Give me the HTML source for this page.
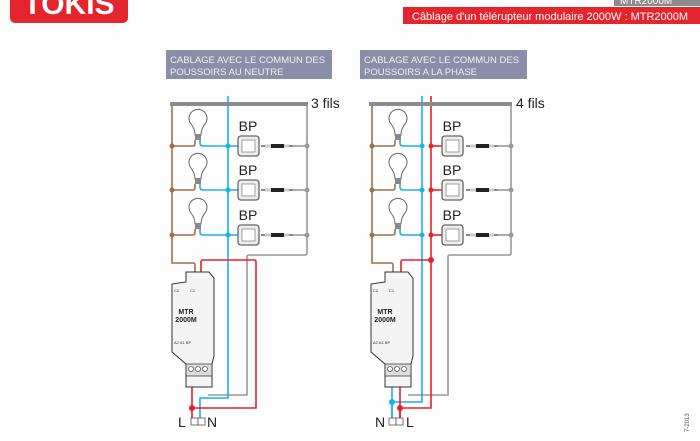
<!DOCTYPE html>
<html><head><meta charset="utf-8"><style>
html,body{margin:0;padding:0;background:#fcfdfc;}
svg{display:block;font-family:"Liberation Sans",sans-serif;}
</style></head><body>
<svg width="700" height="441" viewBox="0 0 700 441" xmlns="http://www.w3.org/2000/svg">
<defs>
<g id="bulb">
<path d="M-3,23 Q-3,17 -7,12 A9,9 0 1 1 7,12 Q3,17 3,23 Z" fill="#fff" stroke="#666" stroke-width="1"/>
<rect x="-3" y="22" width="6" height="6" fill="#888"/>
</g>
<g id="bp">
<rect x="0" y="0" width="21" height="20" rx="3" fill="#eee" stroke="#666" stroke-width="1.3"/>
<rect x="4" y="4" width="13" height="12" fill="#fff" stroke="#888" stroke-width="0.8"/>
</g>
<g id="res">
<line x1="0" y1="0" x2="32" y2="0" stroke="#888" stroke-width="2"/>
<rect x="4" y="-1.5" width="24" height="3" fill="#ccc"/>
<rect x="10" y="-2" width="13" height="4" fill="#222"/>
</g>
<g id="mod">
<polygon points="14,0 37,0 42,6 42,84 40,92 40,115 14,115 14,92 0,80 0,12 14,10" fill="#f4f4f4" stroke="#333" stroke-width="1"/>
<polygon points="14,92 40,92 40,104 14,104" fill="#ddd" stroke="#333" stroke-width="0.8"/>
<circle cx="19" cy="97" r="2.5" fill="#fff" stroke="#333" stroke-width="0.6"/><circle cx="26" cy="97" r="2.5" fill="#fff" stroke="#333" stroke-width="0.6"/><circle cx="33" cy="97" r="2.5" fill="#fff" stroke="#333" stroke-width="0.6"/>
<text x="2" y="20" font-size="4" fill="#333">C2</text><text x="18" y="20" font-size="4" fill="#333">C1</text>
<text x="14" y="42" font-size="7" font-weight="bold" fill="#222" text-anchor="middle">MTR</text>
<text x="14" y="50" font-size="7" font-weight="bold" fill="#222" text-anchor="middle">2000M</text>
<text x="2" y="72" font-size="4" fill="#333">A2  A1  BP</text>
</g>
</defs>

<rect x="10" y="-12" width="118" height="35" rx="5" fill="#e4252e"/>
<text x="69" y="14" font-size="30" font-weight="bold" fill="#fff" text-anchor="middle">TOKIS</text>
<rect x="614" y="-4" width="86" height="10" fill="#8c8c8c"/>
<text x="620" y="4" font-size="10" fill="#fff">MTR2000M</text>
<rect x="403" y="7" width="297" height="17" fill="#e4252e"/>
<text x="412" y="20" font-size="11" fill="#fff">Câblage d'un télérupteur modulaire 2000W : MTR2000M</text>

<rect x="166" y="50" width="166" height="29" fill="#8a8ea8"/>
<text x="170" y="63" font-size="9.5" fill="#f0f0f0">CABLAGE AVEC LE COMMUN DES</text>
<text x="170" y="75" font-size="9.5" fill="#f0f0f0">POUSSOIRS AU NEUTRE</text>
<rect x="360" y="50" width="167" height="29" fill="#8a8ea8"/>
<text x="364" y="63" font-size="9.5" fill="#f0f0f0">CABLAGE AVEC LE COMMUN DES</text>
<text x="364" y="75" font-size="9.5" fill="#f0f0f0">POUSSOIRS A LA PHASE</text>

<text x="689" y="432" font-size="6" fill="#555" transform="rotate(-90 689 432)">7-2013</text>

<g fill="none" stroke-width="1.6">
<path d="M307,104 V253 Q307,255 305,255 H249 Q247,255 247,257 V395 H208" stroke="#999"/>
<path d="M172,104 V263 H193 Q195,263 195,265 V272" stroke="#a0704a"/>
<path d="M228,96 V398 H200 V420" stroke="#1ab0ea"/>
<path d="M201,272 V262 Q201,260 203,260 H254 Q256,260 256,262 V408 H192" stroke="#e8202a"/>
<path d="M192,375 V420" stroke="#e8202a"/>
<path d="M511,104 V253 Q511,255 509,255 H450 Q448,255 448,257 V395 H408" stroke="#999"/>
<path d="M372,104 V263 H391 Q393,263 393,265 V272" stroke="#a0704a"/>
<path d="M422,96 V402 H392 V420" stroke="#1ab0ea"/>
<path d="M392,375 V420" stroke="#1ab0ea"/>
<path d="M431,96 V408 H400 V420" stroke="#e8202a"/>
<path d="M401,272 V262 Q401,260 403,260 H431" stroke="#e8202a"/>
<path d="M400,375 V420" stroke="#e8202a"/>
</g>
<line x1="170" y1="104" x2="308" y2="104" stroke="#8c8c8c" stroke-width="4"/>
<text x="311" y="108" font-size="14" fill="#222">3 fils</text>
<line x1="369" y1="104" x2="512" y2="104" stroke="#8c8c8c" stroke-width="4"/>
<text x="516" y="108" font-size="14" fill="#222">4 fils</text>

<g id="rowsL">
<g transform="translate(0,146)">
<path d="M172,0 H193 Q195,0 195,-3 V-6" fill="none" stroke="#a0704a" stroke-width="1.6"/>
<path d="M200,-6 V-3 Q200,0 203,0 H238" fill="none" stroke="#1ab0ea" stroke-width="1.6"/>
<use href="#bulb" transform="translate(198,-34)"/>
<use href="#bp" transform="translate(238,-10)"/>
<text x="248" y="-15" font-size="14" text-anchor="middle" fill="#222">BP</text>
<use href="#res" transform="translate(261,0)"/>
<line x1="293" y1="0" x2="307" y2="0" stroke="#999" stroke-width="1.6"/>
<circle cx="172" cy="0" r="2.5" fill="#a0704a"/><circle cx="228" cy="0" r="2.5" fill="#1ab0ea"/><circle cx="307" cy="0" r="2.5" fill="#999"/>
</g>
</g>
<use href="#rowsL" transform="translate(0,44)"/>
<use href="#rowsL" transform="translate(0,89)"/>

<g id="rowsR">
<g transform="translate(0,146)">
<path d="M372,0 H393 Q395,0 395,-3 V-6" fill="none" stroke="#a0704a" stroke-width="1.6"/>
<path d="M400,-6 V-3 Q400,0 403,0 H422" fill="none" stroke="#1ab0ea" stroke-width="1.6"/>
<line x1="431" y1="0" x2="442" y2="0" stroke="#e8202a" stroke-width="1.6"/>
<use href="#bulb" transform="translate(398,-34)"/>
<use href="#bp" transform="translate(442,-10)"/>
<text x="452" y="-15" font-size="14" text-anchor="middle" fill="#222">BP</text>
<use href="#res" transform="translate(466,0)"/>
<line x1="498" y1="0" x2="511" y2="0" stroke="#999" stroke-width="1.6"/>
<circle cx="372" cy="0" r="2.5" fill="#a0704a"/><circle cx="422" cy="0" r="2.5" fill="#1ab0ea"/><circle cx="431" cy="0" r="2.5" fill="#e8202a"/><circle cx="511" cy="0" r="2.5" fill="#999"/>
</g>
</g>
<use href="#rowsR" transform="translate(0,44)"/>
<use href="#rowsR" transform="translate(0,89)"/>

<use href="#mod" transform="translate(172,272)"/>
<use href="#mod" transform="translate(371,272)"/>
<circle cx="192" cy="408" r="3" fill="#e8202a"/>
<circle cx="431" cy="260" r="3" fill="#e8202a"/>
<circle cx="392" cy="402" r="3" fill="#1ab0ea"/>
<circle cx="400" cy="408" r="3" fill="#e8202a"/>

<rect x="191" y="418" width="7" height="7" fill="#fff" stroke="#555" stroke-width="0.8"/>
<rect x="198" y="418" width="7" height="7" fill="#fff" stroke="#555" stroke-width="0.8"/>
<text x="178" y="427" font-size="14" fill="#222">L</text>
<text x="207" y="427" font-size="14" fill="#222">N</text>
<rect x="389" y="418" width="7" height="7" fill="#fff" stroke="#555" stroke-width="0.8"/>
<rect x="396" y="418" width="7" height="7" fill="#fff" stroke="#555" stroke-width="0.8"/>
<text x="375" y="427" font-size="14" fill="#222">N</text>
<text x="406" y="427" font-size="14" fill="#222">L</text>
</svg>
</body></html>
